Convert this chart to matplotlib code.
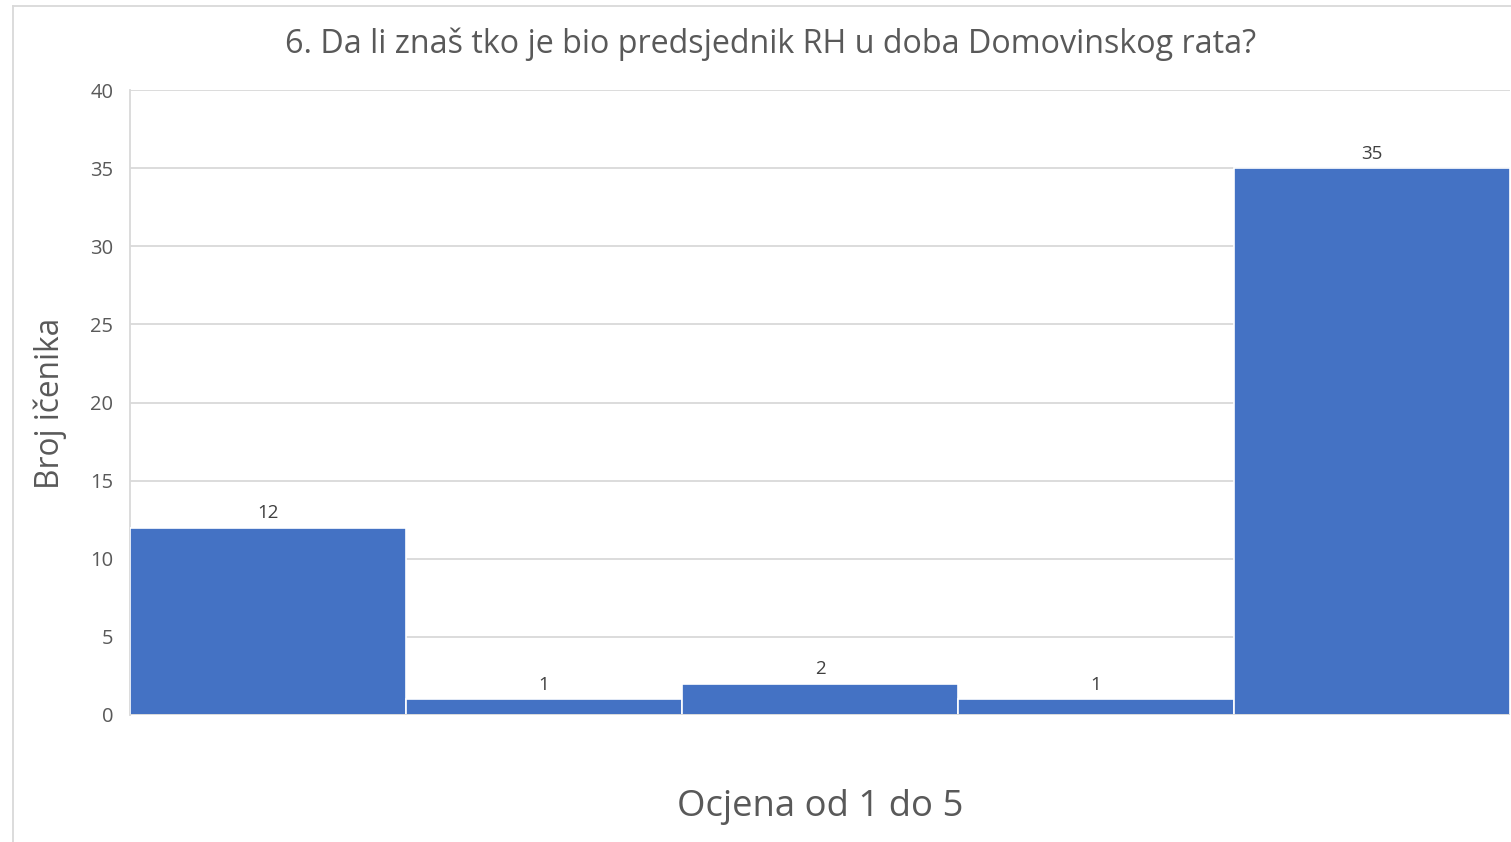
import matplotlib
matplotlib.use("Agg")
import matplotlib.pyplot as plt
from matplotlib.lines import Line2D

categories = ["1", "2", "3", "4", "5"]
values = [12, 1, 2, 1, 35]
yticks = [0, 5, 10, 15, 20, 25, 30, 35, 40]
title = "6. Da li znaš tko je bio predsjednik RH u doba Domovinskog rata?"
xlabel = "Ocjena od 1 do 5"
ylabel = "Broj ičenika"

W, H = 1511, 842
plt.rcParams['font.family'] = ['Open Sans', 'DejaVu Sans']
fig = plt.figure(figsize=(W / 100, H / 100), dpi=100)
fig.patch.set_facecolor("white")

ax = fig.add_axes([130 / W, 1 - 715 / H, 1380 / W, 625 / H])
x = list(range(len(categories)))
bars = ax.bar(x, values, width=1.0, color="#4472C4", edgecolor="white", linewidth=1.2, zorder=3)
ax.set_xlim(-0.5, len(categories) - 0.5)
ax.set_ylim(0, 40)
ax.set_yticks(yticks)
ax.set_xticks([])
ax.grid(axis="y", color="#D9D9D9", linewidth=1.3, zorder=0)
for s in ["top", "right", "bottom"]:
    ax.spines[s].set_visible(False)
ax.spines["left"].set_color("#D9D9D9")
ax.spines["left"].set_linewidth(1.3)
ax.axhline(0, color="#D9D9D9", linewidth=1.3, zorder=4)
ax.tick_params(axis="y", length=0, pad=12, labelsize=14.5, labelcolor="#595959")

for xi, v in zip(x, values):
    ax.annotate(str(v), (xi, v), xytext=(0, 4), textcoords="offset points",
                ha="center", va="bottom", fontsize=13.5, color="#404040")

fig.text(771 / W, 1 - 44 / H, title, ha="center", va="center", fontsize=23.2, color="#595959")
fig.text(820 / W, 1 - 807 / H, xlabel, ha="center", va="center", fontsize=26.3, color="#595959")
fig.text(50 / W, 1 - 403 / H, ylabel, ha="center", va="center", rotation=90, fontsize=22.8, color="#595959")

# chart area border (left and top visible)
fig.add_artist(Line2D([12.5 / W, 12.5 / W], [0, 1 - 5.5 / H], transform=fig.transFigure, color="#D9D9D9", linewidth=1.3))
fig.add_artist(Line2D([12.5 / W, 1], [1 - 5.5 / H, 1 - 5.5 / H], transform=fig.transFigure, color="#D9D9D9", linewidth=1.3))

fig.savefig("out.png", dpi=100)
